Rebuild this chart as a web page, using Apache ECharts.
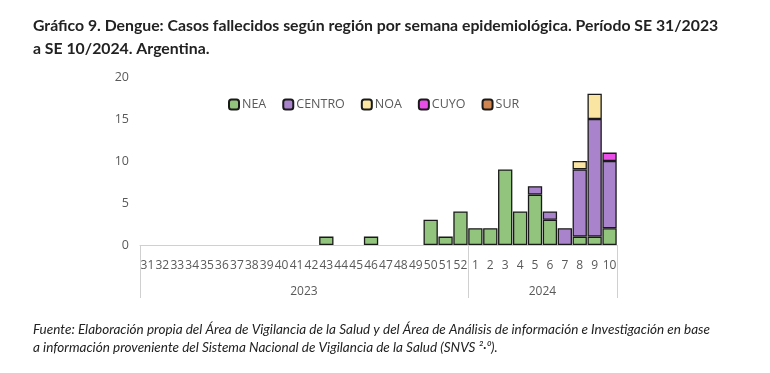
<!DOCTYPE html>
<html><head><meta charset="utf-8">
<script src="https://cdn.jsdelivr.net/npm/echarts@6/dist/echarts.min.js"></script>
<style>html,body{margin:0;padding:0;background:#fff}#c{width:770px;height:373px}</style>
</head><body><div id="c"></div>
<script>
const weeks = ['31','32','33','34','35','36','37','38','39','40','41','42','43','44','45','46','47','48','49','50','51','52','1','2','3','4','5','6','7','8','9','10'];
const years = ['2023','2024'];
const nea    = [null,null,null,null,null,null,null,null,null,null,null,null,1,null,null,1,null,null,null,3,1,4,2,2,9,4,6,3,null,1,1,2];
const centro = [null,null,null,null,null,null,null,null,null,null,null,null,null,null,null,null,null,null,null,null,null,null,null,null,null,null,1,1,2,8,14,8];
const noa    = [null,null,null,null,null,null,null,null,null,null,null,null,null,null,null,null,null,null,null,null,null,null,null,null,null,null,null,null,null,1,3,null];
const cuyo   = [null,null,null,null,null,null,null,null,null,null,null,null,null,null,null,null,null,null,null,null,null,null,null,null,null,null,null,null,null,null,null,1];
const sur    = [null,null,null,null,null,null,null,null,null,null,null,null,null,null,null,null,null,null,null,null,null,null,null,null,null,null,null,null,null,null,null,null];
const yTicks = [0,5,10,15,20];

const chart = echarts.init(document.getElementById('c'), null, {renderer:'canvas'});
const mk = (name, data, color) => ({
  name, type:'bar', stack:'t', data, xAxisIndex:0,
  barCategoryGap:'4%',
  itemStyle:{color, borderColor:'#1a1a1a', borderWidth:1.3}
});
chart.setOption({
  animation:false,
  textStyle:{fontFamily:'"Open Sans", sans-serif'},
  title:[{
    text:'Gráfico 9. Dengue: Casos fallecidos según región por semana epidemiológica. Período SE 31/2023\na SE 10/2024. Argentina.',
    left:28, top:9,
    textStyle:{fontFamily:'Lato', fontWeight:'bold', fontSize:15.8, color:'#222', lineHeight:23}
  },{
    text:'Fuente: Elaboración propia del Área de Vigilancia de la Salud y del Área de Análisis de información e Investigación en base\na información proveniente del Sistema Nacional de Vigilancia de la Salud (SNVS ²·⁰).',
    left:28, top:316,
    textStyle:{fontFamily:'Lato', fontStyle:'italic', fontWeight:'normal', fontSize:13.5, color:'#222', lineHeight:18}
  }],
  legend:{
    left:228, top:98, padding:0, itemWidth:10, itemHeight:10, itemGap:16,
    textStyle:{color:'#595959', fontSize:12.5, fontFamily:'"Open Sans"', padding:[0,0,0,-2]},
    data:['NEA','CENTRO','NOA','CUYO','SUR']
  },
  grid:{left:140, right:153, top:77, bottom:128},
  xAxis:[{
    type:'category', data:weeks,
    axisLine:{lineStyle:{color:'#d0d0d0'}},
    axisTick:{show:false},
    axisLabel:{interval:0, color:'#595959', fontSize:12, margin:15, fontFamily:'"Open Sans"'}
  },{
    type:'value', min:0, max:32, position:'bottom',
    axisLine:{show:false}, splitLine:{show:false},
    axisTick:{show:true, customValues:[0,22,32], length:53, lineStyle:{color:'#d0d0d0'}},
    axisLabel:{customValues:[11,27], formatter:v=> v===11?years[0]:years[1], color:'#595959', fontSize:12, margin:41, fontFamily:'"Open Sans"'}
  }],
  yAxis:{
    type:'value', min:0, max:20, interval:5,
    axisLine:{show:false}, axisTick:{show:false}, splitLine:{show:false},
    axisLabel:{color:'#595959', fontSize:12.5, margin:11, fontFamily:'"Open Sans"', formatter:v=>String(v)}
  },
  series:[
    mk('NEA', nea, '#93c47d'),
    mk('CENTRO', centro, '#a983cb'),
    mk('NOA', noa, '#fbe5a3'),
    mk('CUYO', cuyo, '#ea4ee8'),
    mk('SUR', sur, '#d0844f')
  ]
});
</script></body></html>
